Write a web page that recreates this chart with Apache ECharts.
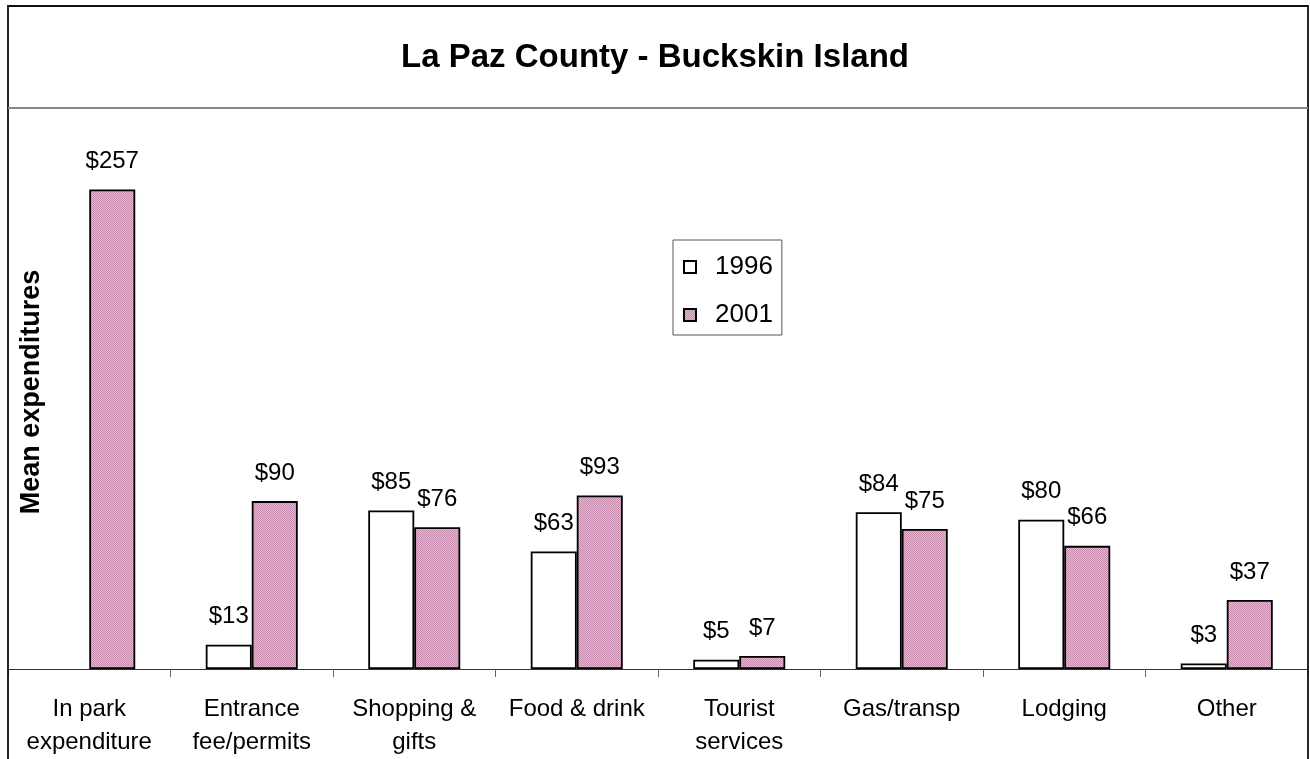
<!DOCTYPE html>
<html>
<head>
<meta charset="utf-8">
<title>La Paz County - Buckskin Island</title>
<script src="https://cdn.jsdelivr.net/npm/echarts@6/dist/echarts.min.js"></script>
<style>
  html, body { margin: 0; padding: 0; background: #fff; }
  #chart { width: 1310px; height: 759px; }
</style>
</head>
<body>
<div id="chart"></div>
<script>
// data
const categories = [
  "In park\nexpenditure", "Entrance\nfee/permits", "Shopping &\ngifts", "Food & drink",
  "Tourist\nservices", "Gas/transp", "Lodging", "Other"
];
const values1996 = [null, 13, 85, 63, 5, 84, 80, 3];
const values2001 = [257, 90, 76, 93, 7, 75, 66, 37];
const seriesNames = ["1996", "2001"];

// small checker pattern for the pink bars
function makePattern() {
  const c = document.createElement("canvas");
  c.width = 2;
  c.height = 2;
  const ctx = c.getContext("2d");
  ctx.fillStyle = "#e2bcd0";
  ctx.fillRect(0, 0, 2, 2);
  ctx.fillStyle = "#c48aab";
  ctx.fillRect(0, 0, 1, 1);
  ctx.fillRect(1, 1, 1, 1);
  return c;
}

const myChart = echarts.init(document.getElementById("chart"));
const font = "Liberation Sans, Arial, sans-serif";

const labelStyle = {
  show: true,
  position: "top",
  distance: 16,
  color: "#000",
  fontSize: 24,
  fontFamily: font,
  formatter: (p) => "$" + p.value,
};

const option = {
  animation: false,
  backgroundColor: "#fff",
  title: {
    text: "La Paz County - Buckskin Island",
    left: "center",
    top: 36,
    textStyle: { fontSize: 33, fontWeight: "bold", fontFamily: font, color: "#000" },
  },
  legend: {
    data: seriesNames,
    orient: "vertical",
    left: 673,
    top: 240,
    padding: [14, 9, 7, 10],
    itemWidth: 12,
    itemHeight: 12,
    itemGap: 22,
    borderColor: "#555",
    borderWidth: 1,
    icon: "rect",
    textStyle: { fontSize: 26, fontFamily: font, color: "#000", padding: [0, 0, 0, 14] },
  },
  grid: { left: 8, right: 2, top: 113, bottom: 86 },
  xAxis: {
    type: "category",
    data: categories,
    axisLine: { show: true, lineStyle: { color: "#333", width: 1 } },
    axisTick: { show: true, length: 8, lineStyle: { color: "#666" } },
    axisLabel: { color: "#000", fontSize: 24, fontFamily: font, margin: 24, lineHeight: 33, interval: 0 },
  },
  yAxis: {
    type: "value",
    min: 0,
    max: 298,
    axisLine: { show: false },
    axisTick: { show: false },
    axisLabel: { show: false },
    splitLine: { show: false },
  },
  graphic: [
    {
      type: "rect",
      shape: { x: 8, y: 6, width: 1300, height: 770 },
      style: { fill: null, stroke: "#111", lineWidth: 1.8 },
      z: 100,
    },
    {
      type: "line",
      shape: { x1: 8, y1: 108, x2: 1308, y2: 108 },
      style: { stroke: "#888", lineWidth: 2 },
      z: 100,
    },
    {
      type: "text",
      x: 32,
      y: 392,
      rotation: Math.PI / 2,
      style: {
        text: "Mean expenditures",
        fontSize: 27,
        fontWeight: "bold",
        fontFamily: font,
        fill: "#000",
        align: "center",
        verticalAlign: "middle",
      },
    },
  ],
  series: [
    {
      name: seriesNames[0],
      type: "bar",
      data: values1996,
      barWidth: 46,
      barGap: 0,
      itemStyle: { color: "#fff", borderColor: "#000", borderWidth: 1.8 },
      label: labelStyle,
    },
    {
      name: seriesNames[1],
      type: "bar",
      data: values2001,
      barWidth: 46,
      itemStyle: { color: { image: makePattern(), repeat: "repeat" }, borderColor: "#000", borderWidth: 1.8 },
      label: labelStyle,
    },
  ],
};

myChart.setOption(option);
window.addEventListener("resize", () => myChart.resize());
</script>
</body>
</html>
